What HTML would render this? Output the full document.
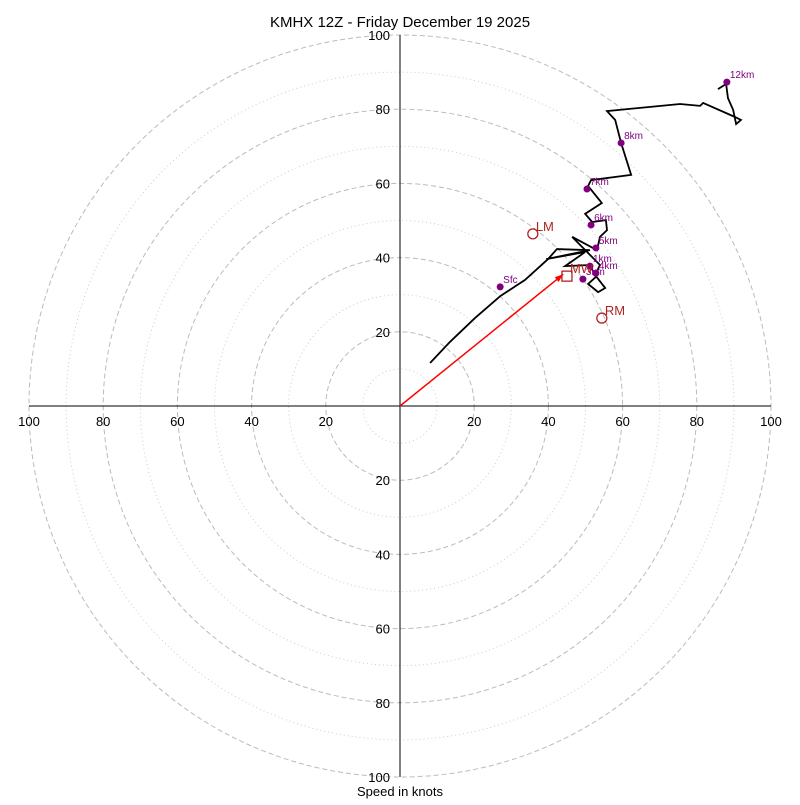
<!DOCTYPE html>
<html><head><meta charset="utf-8"><style>
body{margin:0;background:#fff}
svg text{font-family:"Liberation Sans","DejaVu Sans",sans-serif}
</style></head><body>
<svg id="c" width="800" height="800" xmlns="http://www.w3.org/2000/svg"></svg>
<script>
const ringsMajor=[20,40,60,80,100];
const ringsMinor=[10,30,50,70,90];
const tickLabels=[20,40,60,80,100];
const hodoU=[8.1,13.5,20.2,27.0,33.7,39.9,42.3,51.2,39.4,49.9,44.5,51.2,52.8,50.7,53.4,55.3,52.6,53.9,46.4,53.1,53.9,55.8,55.5,51.8,49.9,54.4,50.7,51.5,62.3,59.6,58.0,55.8,75.5,80.9,81.7,90.3,91.9,90.6,89.8,88.4,87.9,85.7];
const hodoV=[11.6,17.3,23.7,29.6,34.0,39.6,42.3,42.0,39.6,41.5,37.7,38.0,34.8,32.9,30.7,31.8,35.3,38.0,45.6,42.0,45.6,47.4,50.1,49.6,51.8,54.7,59.3,60.9,62.3,70.9,77.1,79.5,81.4,80.9,81.7,77.9,77.1,76.0,79.8,83.0,86.8,85.4];
const markerNames=["Sfc","1km","3km","4km","5km","6km","7km","8km","12km"];
const markerU=[27.0,51.2,49.3,52.8,52.8,51.5,50.4,59.6,88.1];
const markerV=[32.1,37.7,34.2,35.8,42.6,48.8,58.5,70.9,87.3];
const stormNames=["LM","RM","MW"];
const stormU=[35.8,54.4,45.0];
const stormV=[46.4,23.7,35.0];
const cx=400,cy=406,k=3.71;
const X=u=>cx+u*k, Y=v=>cy-v*k;
const svg=document.getElementById('c');
const NS='http://www.w3.org/2000/svg';
function mk(t,a,p){const e=document.createElementNS(NS,t);for(const q in a)e.setAttribute(q,a[q]);(p||svg).appendChild(e);return e;}
let e;
ringsMinor.forEach(r=>{e=mk('circle',{cx:cx,cy:cy,r:r*k,fill:'none',stroke:'#ccc','stroke-width':1,'stroke-dasharray':'1,3'});

});
ringsMajor.forEach(r=>{e=mk('circle',{cx:cx,cy:cy,r:r*k,fill:'none',stroke:'#bbb','stroke-width':1,'stroke-dasharray':'5,3'});

});
e=mk('line',{x1:X(-100),y1:cy,x2:X(100),y2:cy,stroke:'#000'});


e=mk('line',{x1:cx,y1:Y(100),x2:cx,y2:Y(-100),stroke:'#000'});


tickLabels.forEach(t=>{
 [[X(t),cy+20],[X(-t),cy+20]].forEach(p=>{e=mk('text',{x:p[0],y:p[1],'text-anchor':'middle','font-size':13});e.textContent=t;
 
 });
 [[Y(t)+5],[Y(-t)+5]].forEach(p=>{e=mk('text',{x:cx-10,y:p[0],'text-anchor':'end','font-size':13,fill:'#000'});e.textContent=t;
 
 });
});
e=mk('text',{x:400,y:27,'text-anchor':'middle','font-size':15});e.textContent='KMHX 12Z - Friday December 19 2025';


e=mk('text',{x:400,y:796,'text-anchor':'middle','font-size':13});e.textContent='Speed in knots';


e=mk('polyline',{points:hodoU.map((u,i)=>X(u)+','+Y(hodoV[i])).join(' '),fill:'none',stroke:'#000','stroke-width':1.8});


// mean wind arrow
const ax=X(stormU[2]-1),ay=Y(stormV[2]+0.5);
e=mk('line',{x1:cx,y1:cy,x2:ax,y2:ay,stroke:'red','stroke-width':1.5});


const ang=Math.atan2(ay-cy,ax-cx);
e=mk('polygon',{points:[ax,ay,ax-9*Math.cos(ang-0.35),ay-9*Math.sin(ang-0.35),ax-9*Math.cos(ang+0.35),ay-9*Math.sin(ang+0.35)].join(','),fill:'red'});


markerNames.forEach((n,i)=>{
 e=mk('circle',{cx:X(markerU[i]),cy:Y(markerV[i]),r:3.5,fill:'purple'});
 
 
 e=mk('text',{x:X(markerU[i])+3,y:Y(markerV[i])-4,'font-size':10,fill:'purple'});e.textContent=n;
 
 
});
stormNames.forEach((n,i)=>{
 const x=X(stormU[i]),y=Y(stormV[i]);
 if(n==='MW'){e=mk('rect',{x:x-5,y:y-5,width:10,height:10,fill:'none',stroke:'#b22222','stroke-width':1.3});}
 else{e=mk('circle',{cx:x,cy:y,r:5,fill:'none',stroke:'#b22222','stroke-width':1.3});}
 
 
 e=mk('text',{x:x+3,y:y-3,'font-size':13,fill:'#b22222'});e.textContent=n;
 
 
});
</script>
</body></html>
